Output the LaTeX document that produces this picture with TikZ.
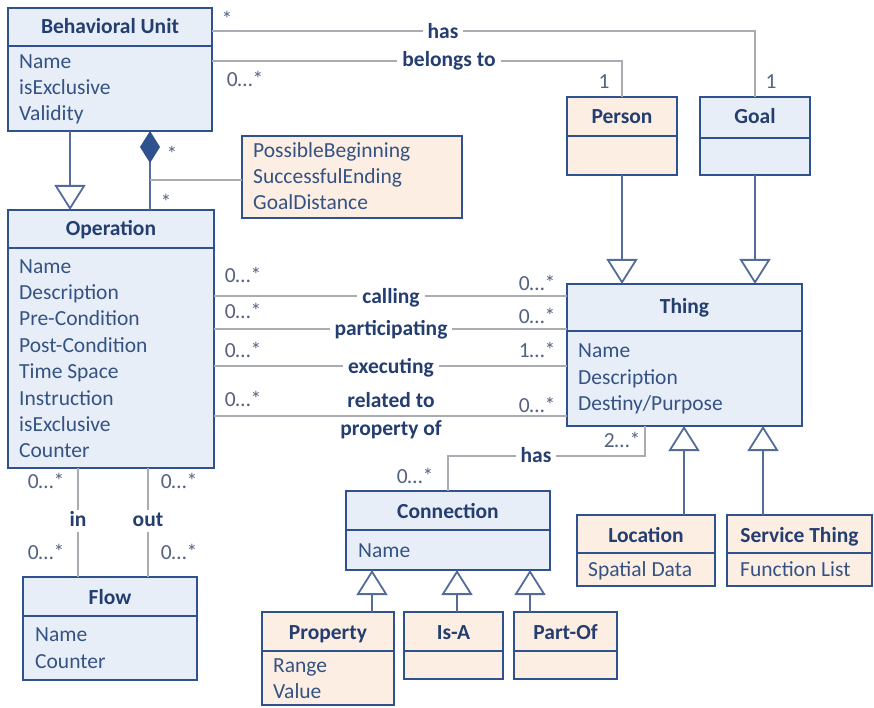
\documentclass[tikz,border=0pt]{standalone}
\usepackage{fontspec}
\setmainfont{Carlito}
\usetikzlibrary{arrows.meta}
\definecolor{bord}{RGB}{47,82,143}
\definecolor{ttl}{RGB}{36,62,112}
\definecolor{atx}{RGB}{52,82,132}
\definecolor{mtx}{RGB}{84,98,130}
\definecolor{bfill}{RGB}{232,238,248}
\definecolor{pfill}{RGB}{252,238,226}
\definecolor{aline}{RGB}{170,172,178}
\definecolor{gline}{RGB}{84,108,152}
\tikzset{
  umlbox/.style={draw=bord, line width=2.6pt, inner sep=0pt, outer sep=0pt, anchor=north west},
  bluebox/.style={umlbox, fill=bfill},
  peachbox/.style={umlbox, fill=pfill},
  sepline/.style={draw=bord, line width=2.6pt},
  txt/.style={inner sep=0pt, text height=14pt, text depth=0pt, font=\fontsize{21.5}{26}\selectfont},
  ttlnode/.style={txt, text=ttl, font=\fontsize{21.5}{26}\selectfont\bfseries},
  attr/.style={txt, text=atx, anchor=west},
  mult/.style={txt, text=mtx},
  rel/.style={inner xsep=5pt, inner ysep=2pt, text height=14pt, text depth=4pt, fill=white, text=ttl, font=\fontsize{21.5}{26}\selectfont\bfseries, align=center},
  assoc/.style={draw=aline, line width=1.5pt},
  gen/.style={draw=gline, line width=1.8pt, -{Triangle[open, width=31pt, length=25pt, line width=1.8pt]}},
  comp/.style={draw=gline, line width=1.8pt, -{Diamond[width=20pt, length=32pt, fill=bord, color=bord]}},
}
\begin{document}
\begin{tikzpicture}[x=1pt, y=-1pt]
\useasboundingbox[fill=white] (0,0) rectangle (874,708);

% ---------- boxes ----------
\node[bluebox, minimum width=204pt, minimum height=123pt] (bu) at (8,8) {};
\draw[sepline] (bu.west |- 0,46) -- (bu.east |- 0,46);
\node[ttlnode] (bu-t) at (110,27) {Behavioral Unit};
\foreach \t [count=\i] in {Name,isExclusive,Validity}
  \node[attr] (bu-a\i) at (19,{62+26*(\i-1)}) {\t};

\node[bluebox, minimum width=206pt, minimum height=258pt] (op) at (8,210) {};
\draw[sepline] (op.west |- 0,248) -- (op.east |- 0,248);
\node[ttlnode] (op-t) at (111,229) {Operation};
\foreach \t [count=\i] in {Name,Description,Pre-Condition,Post-Condition,Time Space,Instruction,isExclusive,Counter}
  \node[attr] (op-a\i) at (19,{266+26.4*(\i-1)}) {\t};

\node[bluebox, minimum width=174pt, minimum height=103pt] (flow) at (23,577) {};
\draw[sepline] (flow.west |- 0,616) -- (flow.east |- 0,616);
\node[ttlnode] (flow-t) at (110,597) {Flow};
\node[attr] (flow-a1) at (35,634) {Name};
\node[attr] (flow-a2) at (35,661) {Counter};

\node[peachbox, minimum width=220pt, minimum height=82pt] (note) at (242,136) {};
\node[attr] (note-a1) at (253,151) {PossibleBeginning};
\node[attr] (note-a2) at (253,177) {SuccessfulEnding};
\node[attr] (note-a3) at (253,203) {GoalDistance};

\node[peachbox, minimum width=110pt, minimum height=78pt] (person) at (567,97) {};
\draw[sepline] (person.west |- 0,136) -- (person.east |- 0,136);
\node[ttlnode] (person-t) at (622,117) {Person};

\node[bluebox, minimum width=110pt, minimum height=78pt] (goal) at (700,97) {};
\draw[sepline] (goal.west |- 0,138) -- (goal.east |- 0,138);
\node[ttlnode] (goal-t) at (755,117) {Goal};

\node[bluebox, minimum width=235pt, minimum height=142pt] (thing) at (567,284) {};
\draw[sepline] (thing.west |- 0,331) -- (thing.east |- 0,331);
\node[ttlnode] (thing-t) at (684.5,306) {Thing};
\node[attr] (thing-a1) at (578,350) {Name};
\node[attr] (thing-a2) at (578,377) {Description};
\node[attr] (thing-a3) at (578,403) {Destiny/Purpose};

\node[bluebox, minimum width=204pt, minimum height=79pt] (conn) at (346,491) {};
\draw[sepline] (conn.west |- 0,530) -- (conn.east |- 0,530);
\node[ttlnode] (conn-t) at (448,511) {Connection};
\node[attr] (conn-a1) at (358,550) {Name};

\node[peachbox, minimum width=138pt, minimum height=71pt] (loc) at (577,515) {};
\draw[sepline] (loc.west |- 0,553) -- (loc.east |- 0,553);
\node[ttlnode] (loc-t) at (646,535) {Location};
\node[attr] (loc-a1) at (588,569) {Spatial Data};

\node[peachbox, minimum width=145pt, minimum height=71pt] (serv) at (727,515) {};
\draw[sepline] (serv.west |- 0,553) -- (serv.east |- 0,553);
\node[ttlnode] (serv-t) at (799.5,535) {Service Thing};
\node[attr] (serv-a1) at (740,569) {Function List};

\node[peachbox, minimum width=132pt, minimum height=93pt] (prop) at (262,612) {};
\draw[sepline] (prop.west |- 0,651) -- (prop.east |- 0,651);
\node[ttlnode] (prop-t) at (328,632) {Property};
\node[attr] (prop-a1) at (273,665) {Range};
\node[attr] (prop-a2) at (273,691) {Value};

\node[peachbox, minimum width=99pt, minimum height=67pt] (isa) at (404,612) {};
\draw[sepline] (isa.west |- 0,651) -- (isa.east |- 0,651);
\node[ttlnode] (isa-t) at (453.5,632) {Is-A};

\node[peachbox, minimum width=103pt, minimum height=67pt] (partof) at (514,612) {};
\draw[sepline] (partof.west |- 0,651) -- (partof.east |- 0,651);
\node[ttlnode] (partof-t) at (565.5,632) {Part-Of};

% ---------- associations ----------
\draw[assoc] (bu.east |- 0,31) -| (goal.north);
\draw[assoc] (bu.east |- 0,61) -| (person.north);
\node[rel] (l-has) at (443,34) {has};
\node[rel] (l-bel) at (449,62) {belongs to};
\node[mult] (m1) at (227,20) {*};
\node[mult] (m2) at (245,80) {0…*};
\node[mult] (m3) at (604,82) {1};
\node[mult] (m4) at (771,82) {1};

% composition and note
\draw[comp] (150,0 |- op.north) -- (150,0 |- bu.south);
\coordinate (cj) at (150,180);
\draw[assoc] (cj) -- (note.west |- cj);
\node[mult] (m5) at (172,155) {*};
\node[mult] (m6) at (166,203) {*};

% generalizations
\draw[gen] (70,0 |- bu.south) -- (70,0 |- op.north);
\draw[gen] (person.south) -- (person.south |- thing.north);
\draw[gen] (goal.south) -- (goal.south |- thing.north);
\draw[gen] (684,0 |- loc.north) -- (684,0 |- thing.south);
\draw[gen] (763,0 |- serv.north) -- (763,0 |- thing.south);
\draw[gen] (372,0 |- prop.north) -- (372,0 |- conn.south);
\draw[gen] (457,0 |- isa.north) -- (457,0 |- conn.south);
\draw[gen] (530,0 |- partof.north) -- (530,0 |- conn.south);

% operation - thing
\draw[assoc] (op.east |- 0,296) -- (thing.west |- 0,296);
\draw[assoc] (op.east |- 0,329) -- (thing.west |- 0,329);
\draw[assoc] (op.east |- 0,366) -- (thing.west |- 0,366);
\draw[assoc] (op.east |- 0,416) -- (thing.west |- 0,416);
\node[rel, inner ysep=0pt] (l-call) at (391,298) {calling};
\node[rel, inner ysep=0pt] (l-part) at (391,330) {participating};
\node[rel, inner ysep=0pt] (l-exec) at (391,368) {executing};
\node[rel, font=\fontsize{21.5}{28}\selectfont\bfseries] (l-rel) at (391,430) {related to\\property of};
\node[mult] (m7) at (243,276) {0…*};
\node[mult] (m8) at (243,311) {0…*};
\node[mult] (m9) at (243,350) {0…*};
\node[mult] (m10) at (243,399) {0…*};
\node[mult] (m11) at (537,283) {0…*};
\node[mult] (m12) at (537,316) {0…*};
\node[mult] (m13) at (537,350) {1…*};
\node[mult] (m14) at (537,405) {0…*};

% thing - connection
\coordinate (hc) at (448,456);
\draw[assoc] (645,0 |- thing.south) |- (hc) -- (hc |- conn.north);
\node[rel] (l-has2) at (536,457) {has};
\node[mult] (m15) at (622,440) {2…*};
\node[mult] (m16) at (415,476) {0…*};

% flows
\draw[assoc] (78,0 |- op.south) -- (78,0 |- flow.north);
\draw[assoc] (148,0 |- op.south) -- (148,0 |- flow.north);
\node[rel] (l-in) at (78,521) {in};
\node[rel] (l-out) at (148,521) {out};
\node[mult] (m17) at (46,481) {0…*};
\node[mult] (m18) at (179,481) {0…*};
\node[mult] (m19) at (46,552) {0…*};
\node[mult] (m20) at (179,552) {0…*};
\end{tikzpicture}
\end{document}
